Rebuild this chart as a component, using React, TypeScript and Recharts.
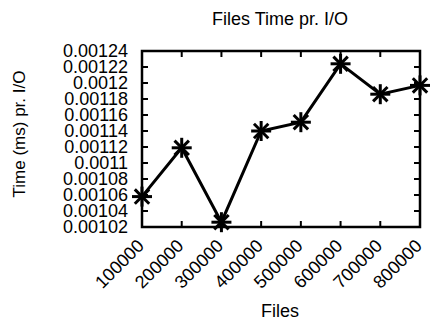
import React from "react";
import { LineChart, Line, XAxis, YAxis, ReferenceArea } from "recharts";

const files = [100000, 200000, 300000, 400000, 500000, 600000, 700000, 800000];
const timePerIO = [0.001058, 0.001119, 0.001026, 0.00114, 0.001151, 0.001224, 0.001186, 0.001197];
const yTicks = [
  0.00102, 0.00104, 0.00106, 0.00108, 0.0011, 0.00112, 0.00114, 0.00116, 0.00118, 0.0012, 0.00122,
  0.00124,
];

const data = files.map((f, i) => ({ files: f, time: timePerIO[i] }));

const W = 434;
const H = 320;
const MARGIN = { top: 51, right: 14, bottom: 33, left: 0 };
const Y_AXIS_W = 142;
const X_AXIS_H = 60;
const PLOT_RIGHT = W - MARGIN.right;
const PLOT_TOP = MARGIN.top;
const FONT = "'Liberation Sans', Arial, sans-serif";

const fmt = (v: number) => String(Number(v.toFixed(5)));

// left tick label + inward ticks on both left and right border
const YTick = ({ x, y, payload }: any) => (
  <g>
    <line x1={x} y1={y} x2={x + 6} y2={y} stroke="#000" strokeWidth={2} />
    <line x1={PLOT_RIGHT} y1={y} x2={PLOT_RIGHT - 6} y2={y} stroke="#000" strokeWidth={2} />
    <text x={x - 14} y={y} textAnchor="end" dominantBaseline="central" fontSize={18} fontFamily={FONT} fill="#000">
      {fmt(payload.value)}
    </text>
  </g>
);

// bottom tick label (rotated) + inward ticks on bottom and top border
const XTick = ({ x, y, payload }: any) => (
  <g>
    <line x1={x} y1={y} x2={x} y2={y - 6} stroke="#000" strokeWidth={2} />
    <line x1={x} y1={PLOT_TOP} x2={x} y2={PLOT_TOP + 6} stroke="#000" strokeWidth={2} />
    <text
      x={x + 3}
      y={y + 20}
      textAnchor="end"
      transform={`rotate(-45 ${x + 3} ${y + 20})`}
      fontSize={18}
      fontFamily={FONT}
      fill="#000"
    >
      {payload.value}
    </text>
  </g>
);

const Star = ({ cx, cy }: any) => {
  const r = 10;
  const d = r * 0.72;
  return (
    <g stroke="#000" strokeWidth={3}>
      <line x1={cx - r} y1={cy} x2={cx + r} y2={cy} />
      <line x1={cx} y1={cy - r} x2={cx} y2={cy + r} />
      <line x1={cx - d} y1={cy - d} x2={cx + d} y2={cy + d} />
      <line x1={cx - d} y1={cy + d} x2={cx + d} y2={cy - d} />
    </g>
  );
};

export default function App() {
  return (
    <div style={{ position: "absolute", left: 0, top: 0, width: W, height: H, background: "#fff" }}>
      <LineChart width={W} height={H} data={data} margin={MARGIN}>
        <XAxis
          dataKey="files"
          type="number"
          domain={[100000, 800000]}
          ticks={files}
          height={X_AXIS_H}
          tickSize={0}
          tickMargin={0}
          tickLine={false}
          axisLine={false}
          tick={<XTick />}
          interval={0}
        />
        <YAxis
          type="number"
          domain={[0.00102, 0.00124]}
          ticks={yTicks}
          width={Y_AXIS_W}
          tickSize={0}
          tickMargin={0}
          tickLine={false}
          axisLine={false}
          tick={<YTick />}
          interval={0}
        />
        <ReferenceArea
          x1={100000}
          x2={800000}
          y1={0.00102}
          y2={0.00124}
          fill="none"
          stroke="#000"
          strokeWidth={2.5}
          fillOpacity={0}
          strokeOpacity={1}
        />
        <Line
          type="linear"
          dataKey="time"
          stroke="#000"
          strokeWidth={3}
          dot={<Star />}
          isAnimationActive={false}
        />
      </LineChart>
      <svg width={W} height={H} style={{ position: "absolute", left: 0, top: 0, pointerEvents: "none" }}>
        <text x={280} y={25} textAnchor="middle" fontSize={18} fontFamily={FONT} fill="#000">
          Files Time pr. I/O
        </text>
        <text x={280} y={317} textAnchor="middle" fontSize={18} fontFamily={FONT} fill="#000">
          Files
        </text>
        <text
          x={25}
          y={134}
          textAnchor="middle"
          transform="rotate(-90 25 134)"
          fontSize={17}
          fontFamily={FONT}
          fill="#000"
        >
          Time (ms) pr. I/O
        </text>
      </svg>
    </div>
  );
}
